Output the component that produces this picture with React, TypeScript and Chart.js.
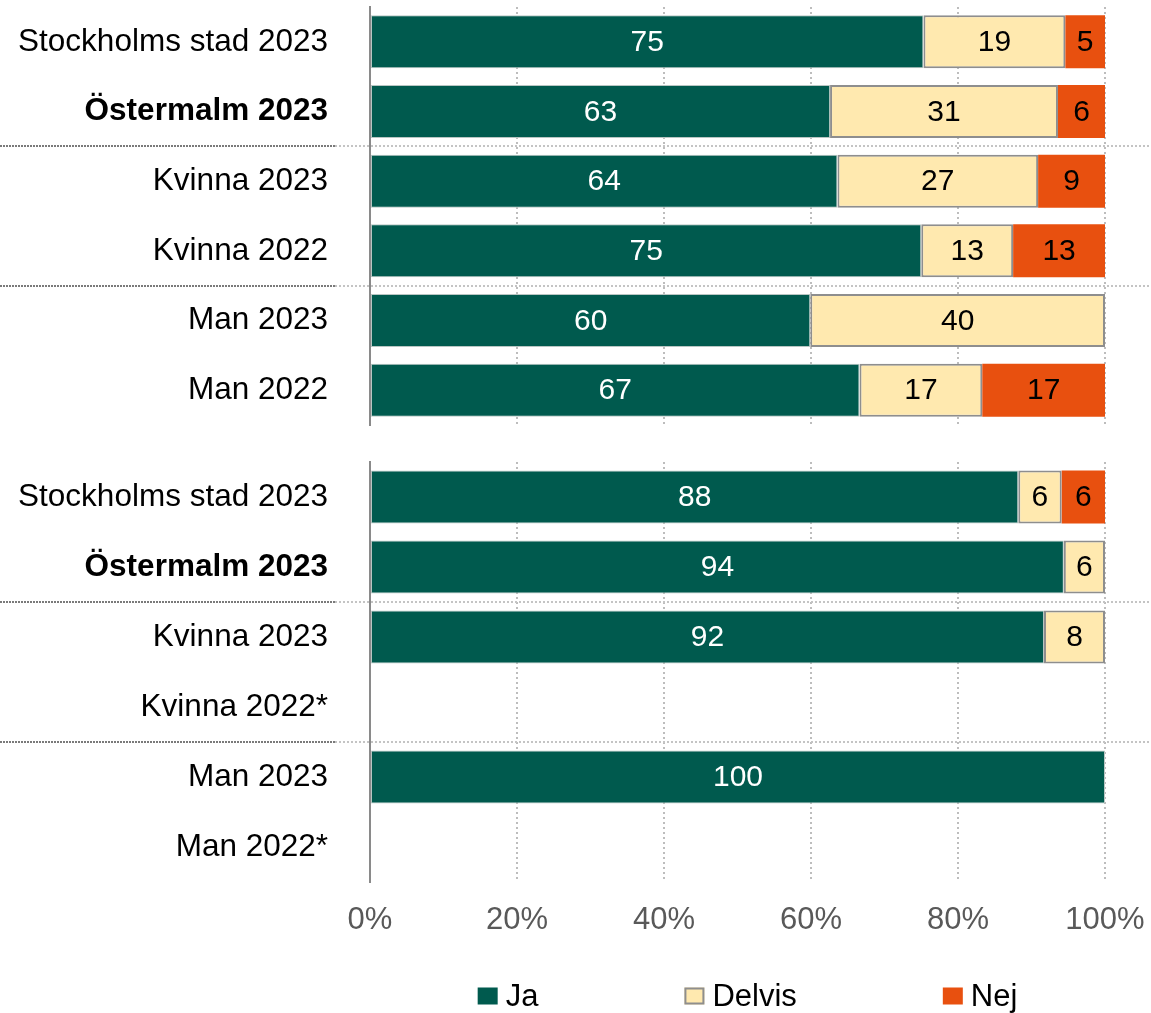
import React, { useEffect, useRef } from 'react';
import { Chart, registerables } from 'chart.js';
Chart.register(...registerables);

const topCategories = ['Stockholms stad 2023', 'Östermalm 2023', 'Kvinna 2023', 'Kvinna 2022', 'Man 2023', 'Man 2022'];
const topJa = [75.3, 62.6, 63.6, 75.0, 59.9, 66.6];
const topDelvis = [19.3, 31.0, 27.3, 12.5, 40.1, 16.7];
const topNej = [5.4, 6.4, 9.1, 12.5, 0, 16.7];

const bottomCategories = ['Stockholms stad 2023', 'Östermalm 2023', 'Kvinna 2023', 'Kvinna 2022*', 'Man 2023', 'Man 2022*'];
const bottomJa = [88.2, 94.4, 91.7, null, 100, null];
const bottomDelvis = [5.9, 5.6, 8.3, null, 0, null];
const bottomNej = [5.9, 0, 0, null, 0, null];

const seriesNames = ['Ja', 'Delvis', 'Nej'];
const seriesColors = ['#005A4E', '#FFE9AF', '#E8500F'];
const seriesBorders = ['#B9C6C3', '#8E8E8E', '#E8500F'];
const seriesBorderWidths = [1, 2, 0];
const xTickValues = [0, 20, 40, 60, 80, 100];
const boldCategory = 'Östermalm 2023';
const groupBreaks = [2, 4];

const FAMILY = "'Liberation Sans', Arial, Helvetica, sans-serif";
const W = 1151;
const TOP_H = 444;
const BOTTOM_H = 1013 - TOP_H;

const valueLabels = {
  id: 'valueLabels',
  afterDatasetsDraw(chart: any) {
    const ctx = chart.ctx;
    ctx.save();
    ctx.font = `30px ${FAMILY}`;
    ctx.textAlign = 'center';
    ctx.textBaseline = 'middle';
    chart.data.datasets.forEach((ds: any, di: number) => {
      const meta = chart.getDatasetMeta(di);
      meta.data.forEach((el: any, i: number) => {
        const v = ds.data[i];
        if (v == null || v <= 0) return;
        const p = el.getCenterPoint();
        ctx.fillStyle = di === 0 ? '#FFFFFF' : '#000000';
        ctx.fillText(String(Math.round(v)), p.x, p.y + 1);
      });
    });
    ctx.restore();
  },
};

const separators = {
  id: 'separators',
  beforeDatasetsDraw(chart: any) {
    const ctx = chart.ctx;
    const ys = chart.scales.y;
    const split = chart.chartArea.left - 35;
    ctx.save();
    ctx.lineWidth = 2;
    groupBreaks.forEach((b) => {
      const y = Math.round((ys.getPixelForValue(b - 1) + ys.getPixelForValue(b)) / 2);
      ctx.strokeStyle = '#7A7A7A';
      ctx.setLineDash([2, 1]);
      ctx.beginPath();
      ctx.moveTo(0, y);
      ctx.lineTo(split, y);
      ctx.stroke();
      ctx.strokeStyle = '#C4C4C4';
      ctx.setLineDash([2, 2]);
      ctx.beginPath();
      ctx.moveTo(split, y);
      ctx.lineTo(chart.width, y);
      ctx.stroke();
    });
    ctx.restore();
  },
};

const customLegend = {
  id: 'customLegend',
  afterDraw(chart: any) {
    if (!chart.options.plugins.customLegend || !chart.options.plugins.customLegend.show) return;
    const ctx = chart.ctx;
    const ca = chart.chartArea;
    const boxW = 20, boxH = 17, textGap = 8, itemGap = 146;
    ctx.save();
    ctx.font = `31px ${FAMILY}`;
    const items = chart.data.datasets.map((ds: any) => {
      const tw = ctx.measureText(ds.label).width;
      return { ds, w: boxW + textGap + tw };
    });
    const total = items.reduce((s: number, it: any) => s + it.w, 0) + itemGap * (items.length - 1);
    const cx = (ca.left + ca.right) / 2 + 10;
    let x = cx - total / 2;
    const cy = ca.bottom + 114;
    items.forEach((it: any) => {
      const ds = it.ds;
      ctx.fillStyle = ds.backgroundColor;
      ctx.fillRect(x, cy - boxH / 2, boxW, boxH);
      if (ds.borderWidth >= 2) {
        ctx.strokeStyle = ds.borderColor;
        ctx.lineWidth = 2;
        ctx.strokeRect(x + 1, cy - boxH / 2 + 1, boxW - 2, boxH - 2);
      }
      ctx.fillStyle = '#000000';
      ctx.textAlign = 'left';
      ctx.textBaseline = 'middle';
      ctx.fillText(ds.label, x + boxW + textGap, cy + 1);
      x += it.w + itemGap;
    });
    ctx.restore();
  },
};

function buildConfig(categories: string[], ja: any[], delvis: any[], nej: any[], isBottom: boolean): any {
  const values = [ja, delvis, nej];
  const boldIndex = categories.indexOf(boldCategory);
  return {
    type: 'bar',
    data: {
      labels: categories,
      datasets: values.map((d, i) => ({
        label: seriesNames[i],
        data: d,
        backgroundColor: seriesColors[i],
        borderColor: seriesBorders[i],
        borderWidth: seriesBorderWidths[i],
        borderSkipped: false,
        categoryPercentage: 1,
        barPercentage: 0.76,
      })),
    },
    options: {
      indexAxis: 'y',
      responsive: false,
      animation: false,
      events: [],
      layout: {
        padding: isBottom
          ? { top: 18, right: 46, bottom: 0, left: 0 }
          : { top: 7, right: 46, bottom: TOP_H - 425, left: 0 },
      },
      plugins: {
        legend: { display: false },
        tooltip: { enabled: false },
        customLegend: { show: isBottom },
      },
      scales: {
        x: {
          stacked: true,
          min: 0,
          max: 100,
          afterBuildTicks(scale: any) {
            scale.ticks = xTickValues.map((v) => ({ value: v }));
          },
          afterFit(scale: any) {
            scale.height = isBottom ? 131 : 0;
            scale.paddingLeft = 0;
            scale.paddingRight = 0;
          },
          grid: {
            display: true,
            drawTicks: false,
            color: '#BDBDBD',
            lineWidth: 2,
          },
          border: { display: false, dash: [2, 3] },
          ticks: {
            display: isBottom,
            padding: 20,
            color: '#595959',
            font: { family: FAMILY, size: 31 },
            callback: (v: any) => `${v}%`,
          },
        },
        y: {
          stacked: true,
          afterFit(scale: any) {
            scale.width = 370;
            scale.paddingTop = 0;
            scale.paddingBottom = 0;
          },
          grid: { display: false, drawTicks: false },
          border: { display: true, color: '#8A8A8A', width: 2 },
          ticks: {
            padding: 42,
            color: '#000000',
            font: (c: any) => ({
              family: FAMILY,
              size: 31.5,
              weight: c.index === boldIndex ? 'bold' : 'normal',
            }),
          },
        },
      },
    },
    plugins: [separators, valueLabels, customLegend],
  };
}

function Panel({ categories, ja, delvis, nej, isBottom, height }: any) {
  const ref = useRef<HTMLCanvasElement>(null);
  useEffect(() => {
    if (!ref.current) return;
    const cfg = buildConfig(categories, ja, delvis, nej, isBottom);
    const chart = new Chart(ref.current, cfg);
    return () => chart.destroy();
  }, []);
  return <canvas ref={ref} width={W} height={height} style={{ display: 'block', width: W, height }} />;
}

export default function App() {
  useEffect(() => {
    document.body.style.margin = '0';
    document.body.style.background = '#FFFFFF';
  }, []);
  return (
    <div style={{ width: W, height: 1013, background: '#FFFFFF' }}>
      <Panel categories={topCategories} ja={topJa} delvis={topDelvis} nej={topNej} isBottom={false} height={TOP_H} />
      <Panel categories={bottomCategories} ja={bottomJa} delvis={bottomDelvis} nej={bottomNej} isBottom={true} height={BOTTOM_H} />
    </div>
  );
}
